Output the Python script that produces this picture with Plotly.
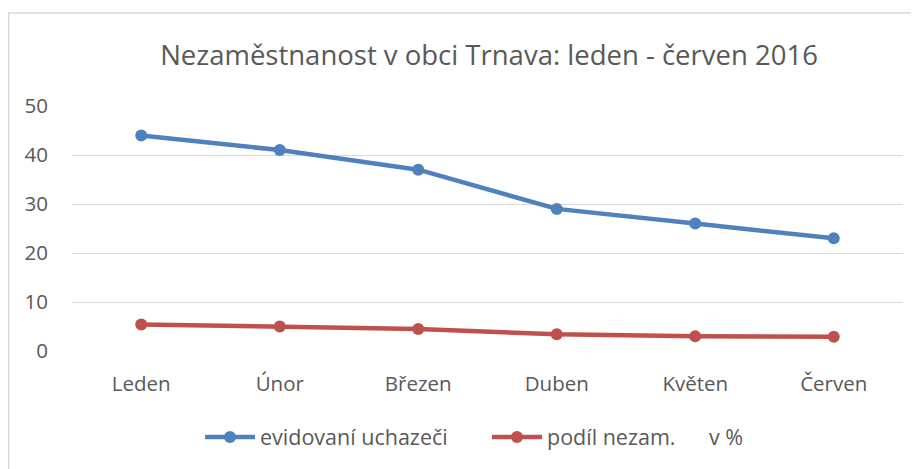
import plotly.graph_objects as go

months = ["Leden", "Únor", "Březen", "Duben", "Květen", "Červen"]
uchazeci = [44, 41, 37, 29, 26, 23]
podil = [5.4, 5.0, 4.5, 3.4, 3.0, 2.9]
y_ticks = [0, 10, 20, 30, 40, 50]

title_text = "Nezaměstnanost v obci Trnava: leden - červen 2016"
name_blue = "evidovaní uchazeči"
name_red = "podíl nezam.\u00a0\u00a0\u00a0\u00a0\u00a0\u00a0v %"

FONT = "Open Sans"
TXT = "#595959"

fig = go.Figure()
fig.add_trace(go.Scatter(
    x=months, y=uchazeci, name=name_blue, mode="lines+markers",
    line=dict(color="#4f81bd", width=4.5),
    marker=dict(color="#4f81bd", size=12),
))
fig.add_trace(go.Scatter(
    x=months, y=podil, name=name_red, mode="lines+markers",
    line=dict(color="#c0504d", width=4.5),
    marker=dict(color="#c0504d", size=12),
))

# page has an 8px body margin; work in page pixels and convert
OFF = 8
W, H = 919 - OFF, 469 - OFF
plot_left, plot_right, plot_top, plot_bottom = 72, 903, 106, 351
L = plot_left - OFF
R = W - (plot_right - OFF)
T = plot_top - OFF
B = H - (plot_bottom - OFF)
pw = W - L - R
ph = H - T - B

def px2x(px):
    return (px - plot_left) / pw

def py2y(py):
    return (plot_bottom - py) / ph

fig.add_shape(type="rect", xref="paper", yref="paper",
              x0=px2x(8.7), x1=px2x(930), y0=py2y(480), y1=py2y(13),
              line=dict(color="#d9d9d9", width=1.5), fillcolor="rgba(0,0,0,0)",
              layer="below")

fig.update_layout(
    width=W, height=H,
    margin=dict(l=L, r=R, t=T, b=B, autoexpand=False),
    paper_bgcolor="white", plot_bgcolor="white",
    font=dict(family=FONT, color=TXT, size=20),
    title=dict(text=title_text, x=(489 - OFF) / W, xanchor="center",
               y=1 - (55 - OFF) / H, yanchor="middle",
               font=dict(family=FONT, size=27.5, color=TXT)),
    showlegend=True,
    legend=dict(orientation="h", x=px2x(200), xanchor="left",
                y=py2y(437), yanchor="middle",
                font=dict(family=FONT, size=21.5, color=TXT),
                itemwidth=50, entrywidth=222, traceorder="normal"),
    xaxis=dict(showgrid=False, showline=False, zeroline=False,
               range=[-0.5, 5.5],
               tickfont=dict(size=20.5, color=TXT), ticklabelstandoff=18),
    yaxis=dict(range=[0, 50], tickvals=y_ticks, showgrid=True,
               gridcolor="#d9d9d9", gridwidth=1.3, zeroline=False,
               showline=False, tickfont=dict(size=20.5, color=TXT),
               ticklabelstandoff=23),
)

fig.write_html("out.html")
